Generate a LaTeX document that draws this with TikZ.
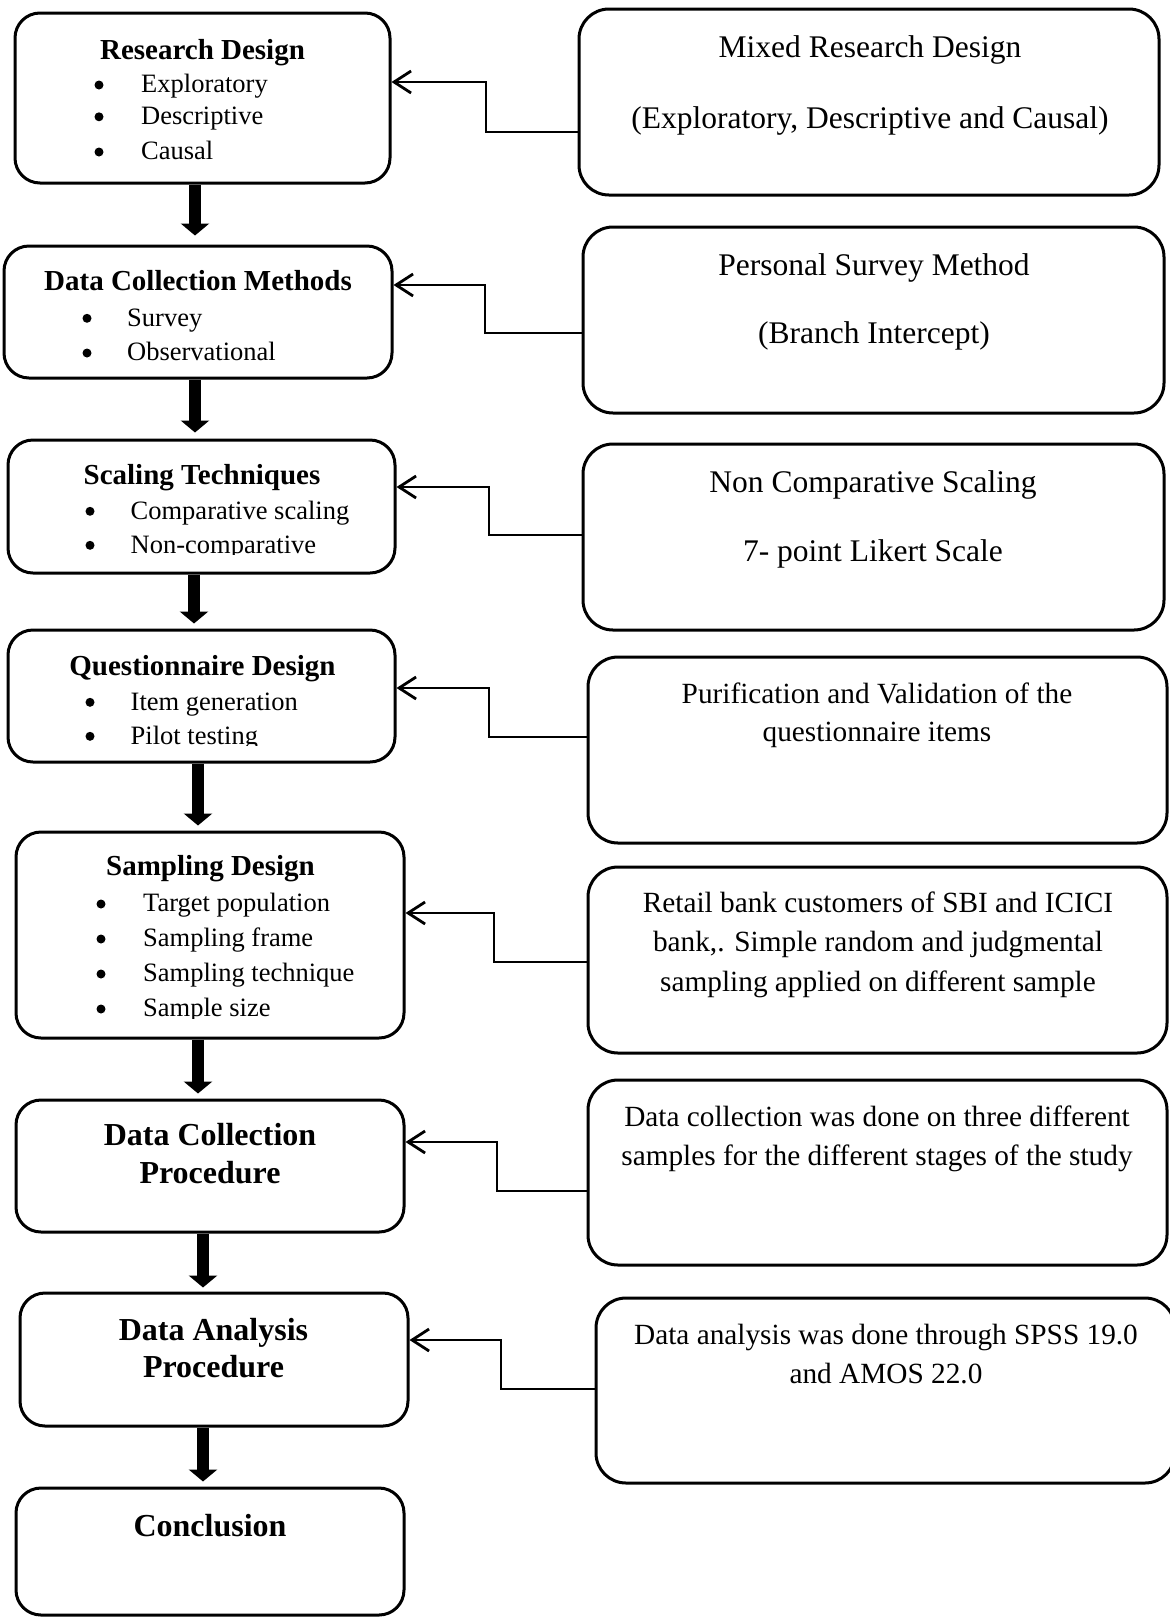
\documentclass[tikz,border=0pt]{standalone}
\usepackage{fontspec}
\setmainfont{Liberation Serif}
\usetikzlibrary{arrows.meta}
\begin{document}
\begin{tikzpicture}[x=1pt,y=-1pt,
  box/.style={draw, line width=3pt, inner sep=0pt},
  lbox/.style={box, rounded corners=25pt},
  rbox/.style={box, rounded corners=30pt},
  t/.style={inner sep=0pt, anchor=base},
  tw/.style={inner sep=0pt, anchor=base west},
  head/.style={t, font=\fontsize{29}{34}\selectfont\bfseries},
  bighead/.style={t, font=\fontsize{32}{38}\selectfont\bfseries},
  item/.style={tw, font=\fontsize{26.5}{31}\selectfont},
  dot/.style={circle, fill, inner sep=0pt, minimum size=9pt, yshift=7.7pt},
  note/.style={t, font=\fontsize{31.5}{37}\selectfont},
  smallnote/.style={t, font=\fontsize{29.3}{35}\selectfont},
  link/.style={line width=2.8pt, -{Straight Barb[length=17pt,width=22pt]}},
  flow/.style={line width=12pt, -{Triangle[length=12pt,width=28pt]}},
]
\useasboundingbox (0,0) rectangle (1170,1618);

% ---------- left column: stages ----------
\node[lbox, minimum width=375pt, minimum height=170pt] (l1) at (202.5,98) {};
\node[lbox, minimum width=388pt, minimum height=132pt] (l2) at (198,312) {};
\node[lbox, minimum width=387pt, minimum height=133pt] (l3) at (201.5,506.5) {};
\node[lbox, minimum width=387pt, minimum height=132pt] (l4) at (201.5,696) {};
\node[lbox, minimum width=388pt, minimum height=206pt] (l5) at (210,935) {};
\node[lbox, minimum width=388pt, minimum height=132pt] (l6) at (210,1166) {};
\node[lbox, minimum width=388pt, minimum height=133pt] (l7) at (214,1359.5) {};
\node[lbox, minimum width=388pt, minimum height=127pt] (l8) at (210,1551.5) {};

% ---------- right column: details ----------
\node[rbox, minimum width=580pt, minimum height=186pt] (r1) at (869,102) {};
\node[rbox, minimum width=581pt, minimum height=186pt] (r2) at (873.5,320) {};
\node[rbox, minimum width=581pt, minimum height=186pt] (r3) at (873.5,537) {};
\node[rbox, minimum width=579pt, minimum height=186pt] (r4) at (877.5,750) {};
\node[rbox, minimum width=579pt, minimum height=186pt] (r5) at (877.5,960) {};
\node[rbox, minimum width=579pt, minimum height=185pt] (r6) at (877.5,1172.5) {};
\node[rbox, minimum width=579pt, minimum height=185pt] (r7) at (885.5,1390.5) {};

% ---------- left texts ----------
\node[head] (h1) at (202.5,59.3) {Research Design};
\node[dot] (b1a) at (99,92.7) {};  \node[item] (i1a) at (141,92.7) {Exploratory};
\node[dot] (b1b) at (99,124.5) {}; \node[item] (i1b) at (141,124.5) {Descriptive};
\node[dot] (b1c) at (99,159.7) {}; \node[item] (i1c) at (141,159.7) {Causal};

\node[head] (h2) at (198,290) {Data Collection Methods};
\node[dot] (b2a) at (87,326) {};   \node[item] (i2a) at (127,326) {Survey};
\node[dot] (b2b) at (87,360.7) {}; \node[item] (i2b) at (127,360.7) {Observational};

\node[head] (h3) at (202,484) {Scaling Techniques};
\node[dot] (b3a) at (90,519) {}; \node[item] (i3a) at (130.5,519) {Comparative scaling};
\node[dot] (b3b) at (90,553) {};
\begin{scope}
  \clip (0,400) rectangle (400,554.5);
  \node[item] (i3b) at (130.5,553) {Non-comparative};
\end{scope}

\node[head] (h4) at (202.5,675) {Questionnaire Design};
\node[dot] (b4a) at (90,710) {}; \node[item] (i4a) at (130.5,710) {Item generation};
\node[dot] (b4b) at (90,744) {};
\begin{scope}
  \clip (0,600) rectangle (400,745.5);
  \node[item] (i4b) at (130.5,744) {Pilot testing};
\end{scope}

\node[head] (h5) at (210.5,875) {Sampling Design};
\node[dot] (b5a) at (101,911.7) {}; \node[item] (i5a) at (143,911.7) {Target population};
\node[dot] (b5b) at (101,946.7) {}; \node[item] (i5b) at (143,946.7) {Sampling frame};
\node[dot] (b5c) at (101,981.7) {}; \node[item] (i5c) at (143,981.7) {Sampling technique};
\node[dot] (b5d) at (101,1016.7) {};
\begin{scope}
  \clip (0,990) rectangle (410,1018.2);
  \node[item] (i5d) at (143,1016.7) {Sample size};
\end{scope}

\node[bighead] (h6a) at (210,1145) {Data Collection};
\node[bighead] (h6b) at (210,1183) {Procedure};
\node[bighead] (h7a) at (213.5,1340.7) {Data Analysis};
\node[bighead] (h7b) at (213.5,1377.7) {Procedure};
\node[bighead] (h8) at (210,1536) {Conclusion};

% ---------- right texts ----------
\node[note] (n1a) at (870,57.3) {Mixed Research Design};
\node[note] (n1b) at (870,128) {(Exploratory, Descriptive and Causal)};
\node[note] (n2a) at (874,275) {Personal Survey Method};
\node[note] (n2b) at (874,343) {(Branch Intercept)};
\node[note] (n3a) at (873,492.7) {Non Comparative Scaling};
\node[note] (n3b) at (873,561.7) {7- point Likert Scale};
\node[smallnote] (n4a) at (877,703) {Purification and Validation of the};
\node[smallnote] (n4b) at (877,741.7) {questionnaire items};
\node[smallnote] (n5a) at (878,912.7) {Retail bank customers of SBI and ICICI};
\node[smallnote] (n5b) at (878,951.7) {bank,. Simple random and judgmental};
\node[smallnote] (n5c) at (878,991.7) {sampling applied on different sample};
\node[smallnote] (n6a) at (877,1126) {Data collection was done on three different};
\node[smallnote] (n6b) at (877,1165) {samples for the different stages of the study};
\node[smallnote] (n7a) at (886,1344) {Data analysis was done through SPSS 19.0};
\node[smallnote] (n7b) at (886,1383) {and AMOS 22.0};

% ---------- elbow links from details to stages ----------
\draw[link] (r1.west |- 0,132)  -| (486,82)   -- (l1.east |- 0,82);
\draw[link] (r2.west |- 0,333)  -| (485,285)  -- (l2.east |- 0,285);
\draw[link] (r3.west |- 0,535)  -| (489,487)  -- (l3.east |- 0,487);
\draw[link] (r4.west |- 0,737)  -| (489,688)  -- (l4.east |- 0,688);
\draw[link] (r5.west |- 0,962)  -| (494,913)  -- (l5.east |- 0,913);
\draw[link] (r6.west |- 0,1191) -| (497,1142) -- (l6.east |- 0,1142);
\draw[link] (r7.west |- 0,1389) -| (501,1340) -- (l7.east |- 0,1340);

% ---------- thick flow arrows between stages ----------
\draw[flow, shorten >=9pt] (l1.south -| 195,0) -- (l2.north -| 195,0);
\draw[flow, shorten >=6pt] (l2.south -| 195,0) -- (l3.north -| 195,0);
\draw[flow, shorten >=5pt] (l3.south -| 194,0) -- (l4.north -| 194,0);
\draw[flow, shorten >=5pt] (l4.south -| 198,0) -- (l5.north -| 198,0);
\draw[flow, shorten >=5pt] (l5.south -| 198,0) -- (l6.north -| 198,0);
\draw[flow, shorten >=4pt] (l6.south -| 203,0) -- (l7.north -| 203,0);
\draw[flow, shorten >=5pt] (l7.south -| 203,0) -- (l8.north -| 203,0);
\end{tikzpicture}
\end{document}
